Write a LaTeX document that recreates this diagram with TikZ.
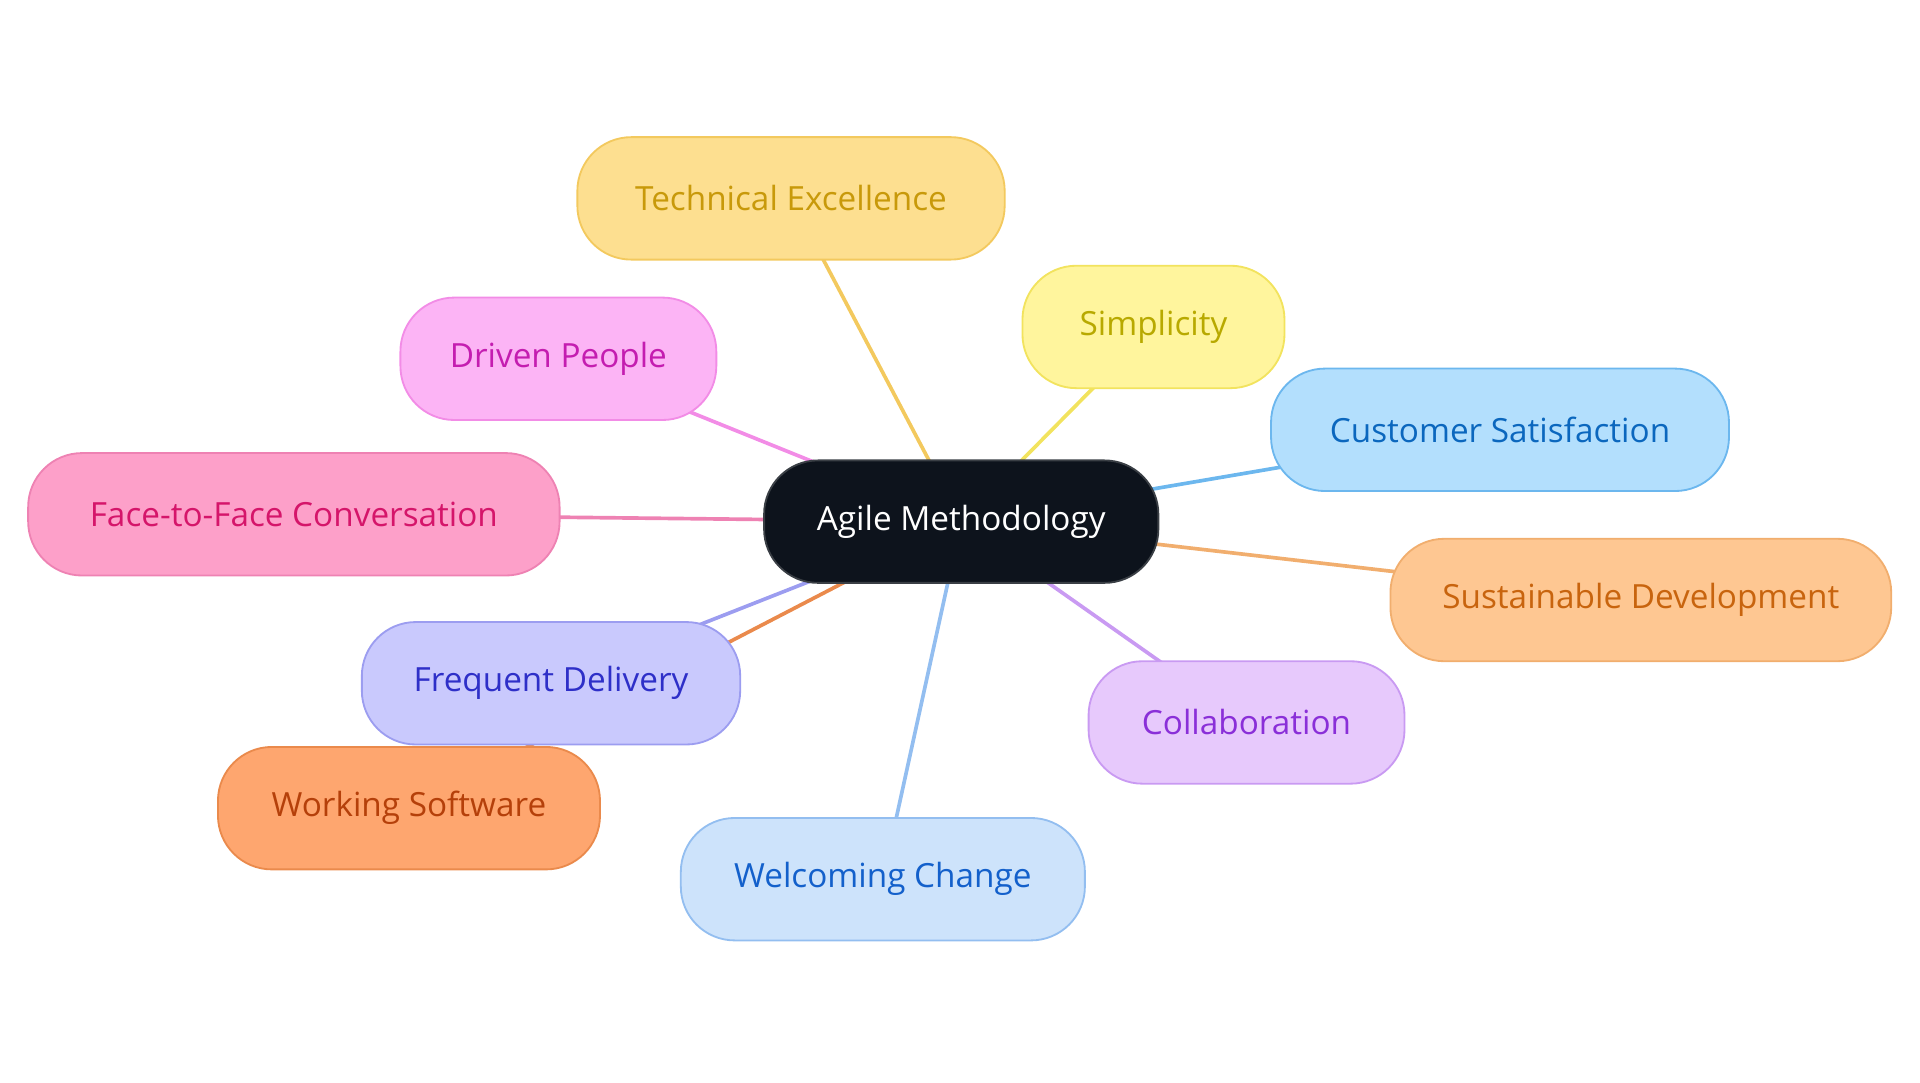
\documentclass[tikz,border=0pt]{standalone}
\usepackage{fontspec}
\setmainfont{Open Sans}
\usetikzlibrary{backgrounds}
\definecolor{agfill}{HTML}{0D131C}\definecolor{agline}{HTML}{3A3F45}
\definecolor{tefill}{HTML}{FDDF90}\definecolor{teline}{HTML}{F3C95E}\definecolor{tetext}{HTML}{C8990A}
\definecolor{sifill}{HTML}{FFF59D}\definecolor{siline}{HTML}{F2E35E}\definecolor{sitext}{HTML}{B8A900}
\definecolor{drfill}{HTML}{FCB4F5}\definecolor{drline}{HTML}{F28CE6}\definecolor{drtext}{HTML}{C41DB0}
\definecolor{cufill}{HTML}{B3DFFD}\definecolor{culine}{HTML}{6CB7EE}\definecolor{cutext}{HTML}{0B67BE}
\definecolor{fafill}{HTML}{FDA0C9}\definecolor{faline}{HTML}{EE82B3}\definecolor{fatext}{HTML}{D5156A}
\definecolor{sufill}{HTML}{FEC792}\definecolor{suline}{HTML}{F1AE6E}\definecolor{sutext}{HTML}{C8640E}
\definecolor{frfill}{HTML}{C9C9FD}\definecolor{frline}{HTML}{9C9DF0}\definecolor{frtext}{HTML}{2E2FC8}
\definecolor{cofill}{HTML}{E7C9FC}\definecolor{coline}{HTML}{C99AF2}\definecolor{cotext}{HTML}{8A2FD8}
\definecolor{wofill}{HTML}{FEA66F}\definecolor{woline}{HTML}{EA8A4C}\definecolor{wotext}{HTML}{B5400A}
\definecolor{wcfill}{HTML}{CDE3FB}\definecolor{wcline}{HTML}{93BEF0}\definecolor{wctext}{HTML}{1360CB}
\tikzset{
  pill/.style n args={3}{draw=#2, fill=#1, text=#3, line width=0.75pt, rounded corners=22pt,
    minimum height=50pt, inner sep=0pt, font=\fontsize{13.6pt}{16pt}\selectfont},
  link/.style={line width=1.5pt, draw=#1}
}
\begin{document}
\begin{tikzpicture}[x=0.5pt,y=-0.5pt]
\useasboundingbox (0,0) rectangle (1568,884);
\node[pill={agfill}{agline}{white}, minimum width=161pt] (ag) at (785,426) {Agile Methodology};
\node[pill={tefill}{teline}{tetext}, minimum width=174.5pt] (te) at (646,162) {Technical Excellence};
\node[pill={sifill}{siline}{sitext}, minimum width=107pt] (si) at (942,267) {Simplicity};
\node[pill={drfill}{drline}{drtext}, minimum width=129pt] (dr) at (456,293) {Driven People};
\node[pill={cufill}{culine}{cutext}, minimum width=187pt] (cu) at (1225,351) {Customer Satisfaction};
\node[pill={fafill}{faline}{fatext}, minimum width=217pt] (fa) at (240,420) {Face-to-Face Conversation};
\node[pill={sufill}{suline}{sutext}, minimum width=204.5pt] (su) at (1340,490) {Sustainable Development};
\node[pill={frfill}{frline}{frtext}, minimum width=154.5pt] (fr) at (450,558) {Frequent Delivery};
\node[pill={cofill}{coline}{cotext}, minimum width=129pt] (co) at (1018,590) {Collaboration};
\node[pill={wofill}{woline}{wotext}, minimum width=156pt] (wo) at (334,660) {Working Software};
\node[pill={wcfill}{wcline}{wctext}, minimum width=165pt] (wc) at (721,718) {Welcoming Change};
\begin{pgfonlayer}{background}
\draw[link=teline] (ag.center) -- (te.center);
\draw[link=siline] (ag.center) -- (si.center);
\draw[link=drline] (ag.center) -- (dr.center);
\draw[link=culine] (ag.center) -- (cu.center);
\draw[link=faline] (ag.center) -- (fa.center);
\draw[link=suline] (ag.center) -- (su.center);
\draw[link=frline] (ag.center) -- (fr.center);
\draw[link=woline] (ag.center) -- (wo.center);
\draw[link=coline] (ag.center) -- (co.center);
\draw[link=wcline] (ag.center) -- (wc.center);
\end{pgfonlayer}
\end{tikzpicture}
\end{document}
